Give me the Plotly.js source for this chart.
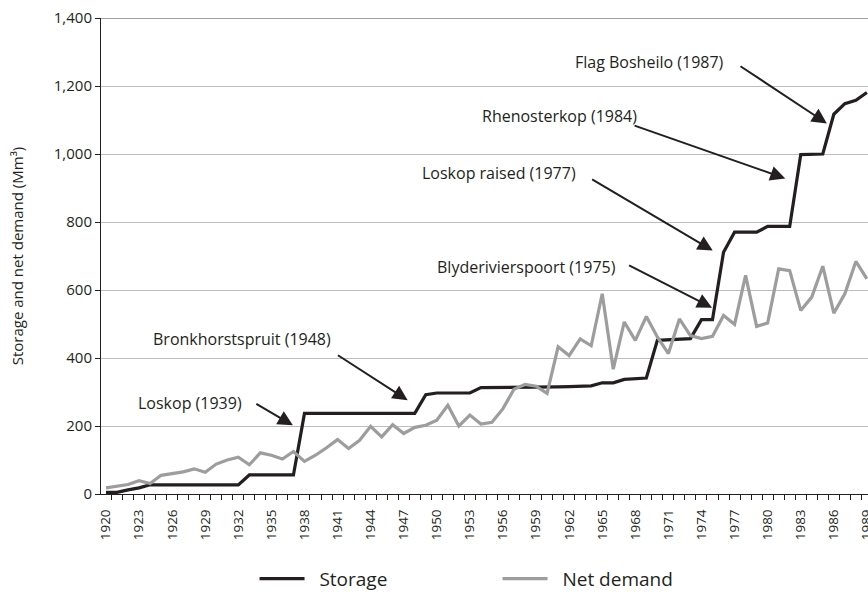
<!DOCTYPE html>
<html>
<head>
<meta charset="utf-8">
<script src="https://cdn.plot.ly/plotly-3.0.1.min.js"></script>
<style>html,body{margin:0;padding:0;background:#fff;}#chart{width:868px;height:592px;}</style>
</head>
<body>
<div id="chart"></div>
<script>
// ---- Data ----
const years = [];
for (let y = 1920; y <= 1989; y++) years.push(y);

const storage = [
  5, 5, 12, 18, 27, 27, 27, 27, 27, 27,          // 1920-1929
  27, 27, 27, 56, 56, 56, 56, 56, 237, 237,       // 1930-1939
  237, 237, 237, 237, 237, 237, 237, 237, 237, 292, // 1940-1949
  297, 297, 297, 297, 313, 313, 313, 313, 313, 313, // 1950-1959
  314, 315, 316, 317, 318, 327, 327, 337, 339, 341, // 1960-1969
  452, 454, 456, 457, 513, 513, 711, 770, 770, 770, // 1970-1979
  787, 787, 787, 998, 998, 1000, 1117, 1148, 1158, 1181 // 1980-1989
];

const netDemand = [
  18, 23, 28, 39, 31, 55, 60, 65, 74, 64,          // 1920-1929
  88, 100, 108, 86, 121, 114, 103, 125, 96, 114,    // 1930-1939
  136, 160, 134, 158, 199, 168, 204, 178, 196, 202, // 1940-1949
  217, 261, 200, 232, 206, 211, 251, 308, 322, 317, // 1950-1959
  296, 433, 407, 456, 436, 589, 367, 506, 452, 522, // 1960-1969
  462, 413, 515, 466, 457, 464, 525, 499, 643, 493, // 1970-1979
  503, 662, 657, 540, 579, 670, 532, 589, 684, 633  // 1980-1989
];

const tickYears = [];
for (let y = 1920; y <= 1989; y += 3) tickYears.push(y);
const tickLabels = tickYears.map(String);

const seriesNames = ['Storage', 'Net demand'];

const damLabels = ['Loskop (1939)', 'Bronkhorstspruit (1948)', 'Blyderivierspoort (1975)',
                   'Loskop raised (1977)', 'Rhenosterkop (1984)', 'Flag Bosheilo (1987)'];

// ---- Annotation placement (label centre, arrow tail, arrow tip) in axis units ----
const labelPos = [[1927.65, 267], [1932.35, 456], [1958.1, 668], [1955.66, 945], [1961.13, 1112], [1969.3, 1271]];
const arrowTail = [[1933.5, 268], [1940.9, 411], [1967.3, 675], [1963.95, 928], [1967.8, 1085], [1977.4, 1261]];
const arrowTip  = [[1936.95, 202], [1947.36, 276], [1974.96, 548], [1975.02, 716], [1981.6, 928], [1985.37, 1090]];

const FONT = '"Open Sans", "Noto Sans", sans-serif';
const DARK = '#231f20';
const PAD = '\u00a0\u00a0';

const traces = [
  { x: years, y: storage, name: PAD + seriesNames[0], type: 'scatter', mode: 'lines',
    line: { color: DARK, width: 3.2 } },
  { x: years, y: netDemand, name: PAD + seriesNames[1], type: 'scatter', mode: 'lines',
    line: { color: '#9d9d9d', width: 3.2 } }
];

const annotations = [];
damLabels.forEach((t, i) => {
  annotations.push({ text: t, x: labelPos[i][0], y: labelPos[i][1], xref: 'x', yref: 'y',
    showarrow: false, xanchor: 'center', yanchor: 'middle',
    font: { family: FONT, size: 16, color: DARK } });
  annotations.push({ text: '', x: arrowTip[i][0], y: arrowTip[i][1], xref: 'x', yref: 'y',
    ax: arrowTail[i][0], ay: arrowTail[i][1], axref: 'x', ayref: 'y',
    showarrow: true, arrowhead: 2, arrowsize: 1.5, arrowwidth: 2, arrowcolor: DARK, standoff: 0 });
});

const layout = {
  width: 868, height: 592,
  margin: { l: 101, r: 0, t: 18, b: 98, pad: 0, autoexpand: false },
  paper_bgcolor: '#fff', plot_bgcolor: '#fff',
  font: { family: FONT, size: 14, color: DARK },
  showlegend: true,
  legend: { orientation: 'h', x: 0.517, xanchor: 'center', y: -0.178, yanchor: 'middle',
    font: { family: FONT, size: 19, color: DARK }, entrywidth: 183, entrywidthmode: 'pixels',
    itemwidth: 45, traceorder: 'normal' },
  xaxis: {
    type: 'linear', range: [1919.55, 1989.1],
    tickmode: 'array', tickvals: tickYears, ticktext: tickLabels, tickangle: -90,
    ticks: '', ticklabelstandoff: 9, ticklabeloverflow: 'allow',
    showgrid: false, zeroline: false, automargin: false,
    showline: true, linecolor: DARK, linewidth: 1,
    tickfont: { family: FONT, size: 13.5, color: DARK },
    minor: { tick0: 1919.5, dtick: 1, ticks: 'outside', ticklen: 5, tickcolor: DARK, tickwidth: 1, showgrid: false },
    fixedrange: true
  },
  yaxis: {
    range: [0, 1400], tickmode: 'linear', tick0: 0, dtick: 200, tickformat: ',',
    ticks: 'outside', ticklen: 5, tickcolor: DARK, tickwidth: 1,
    showgrid: true, gridcolor: '#bdbdbd', gridwidth: 1, zeroline: false,
    showline: true, linecolor: DARK, linewidth: 1,
    tickfont: { family: FONT, size: 15, color: DARK },
    title: { text: 'Storage and net demand (Mm³)', font: { family: FONT, size: 15, color: DARK }, standoff: 26 },
    automargin: false, fixedrange: true
  },
  shapes: [
    { type: 'line', xref: 'paper', yref: 'y', x0: 0, x1: 1, y0: 1400, y1: 1400,
      line: { color: '#444', width: 1.2 } }
  ],
  annotations: annotations
};

Plotly.newPlot('chart', traces, layout, { displayModeBar: false, staticPlot: true });
</script>
</body>
</html>
